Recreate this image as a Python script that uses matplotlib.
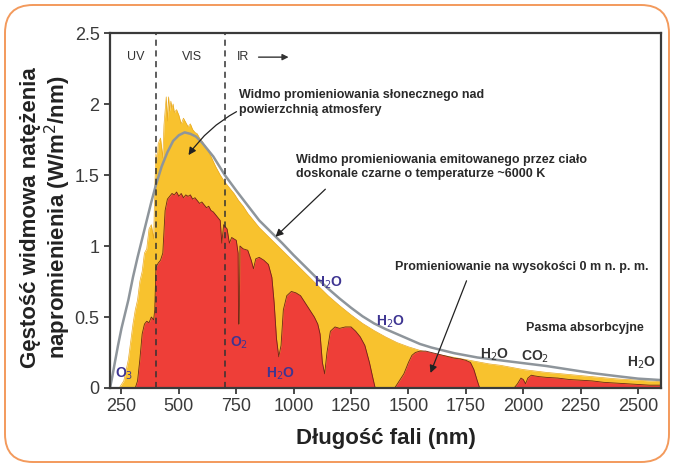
import matplotlib
matplotlib.use("Agg")
import matplotlib.pyplot as plt
from matplotlib import font_manager
from matplotlib.font_manager import FontProperties
from matplotlib.patches import FancyBboxPatch


def pick(names):
    for n in names:
        try:
            font_manager.findfont(FontProperties(family=n), fallback_to_default=False)
            return n
        except Exception:
            pass
    return "DejaVu Sans"


MAIN = pick(["Liberation Sans", "Arial"])

# ---------------- data ----------------
# Blackbody (gray curve)
bb_wl = [200, 210, 220, 235, 250, 265, 280, 300, 320, 340, 360, 380, 400, 425, 450, 475,
         500, 525, 550, 575, 600, 650, 700, 750, 800, 850, 900, 950, 1000, 1050, 1100,
         1150, 1200, 1250, 1300, 1350, 1400, 1450, 1500, 1550, 1600, 1700, 1800, 1900,
         2000, 2100, 2200, 2300, 2400, 2500, 2600]
bb_val = [0.0, 0.08, 0.17, 0.30, 0.42, 0.52, 0.62, 0.78, 0.92, 1.05, 1.18, 1.31, 1.43, 1.56,
          1.66, 1.74, 1.78, 1.80, 1.79, 1.77, 1.73, 1.63, 1.50, 1.39, 1.285, 1.18, 1.10,
          1.02, 0.935, 0.855, 0.775, 0.70, 0.63, 0.565, 0.505, 0.455, 0.415, 0.38, 0.345,
          0.31, 0.285, 0.245, 0.215, 0.195, 0.175, 0.155, 0.13, 0.105, 0.085, 0.066, 0.056]

# Top-of-atmosphere spectrum (yellow)
toa_wl = [240, 260, 280, 300, 310, 320, 330, 340, 350, 360, 370, 380, 390, 395, 400, 405,
          410, 420, 430, 435, 440, 445, 450, 455, 460, 465, 470, 475, 480, 490, 500, 510,
          520, 530, 540, 550, 560, 570, 580, 590, 600, 620, 640, 660, 680, 700, 720, 740,
          760, 780, 800, 850, 900, 950, 1000, 1050, 1100, 1150, 1200, 1250, 1300, 1350,
          1400, 1450, 1500, 1550, 1600, 1650, 1700, 1750, 1800, 1850, 1900, 1950, 2000,
          2100, 2200, 2300, 2400, 2500, 2600]
toa_val = [0.0, 0.05, 0.2, 0.45, 0.55, 0.62, 0.75, 0.82, 0.95, 0.98, 1.12, 1.15, 1.05, 1.40,
           1.65, 1.60, 1.72, 1.76, 1.62, 1.85, 1.95, 2.05, 1.88, 2.05, 1.95, 2.02, 1.97,
           2.00, 1.94, 1.96, 1.92, 1.86, 1.90, 1.87, 1.84, 1.86, 1.82, 1.80, 1.79, 1.76,
           1.74, 1.69, 1.63, 1.56, 1.50, 1.45, 1.41, 1.37, 1.32, 1.28, 1.23, 1.13, 1.05,
           0.97, 0.89, 0.81, 0.73, 0.65, 0.58, 0.515, 0.455, 0.405, 0.36, 0.32, 0.29,
           0.265, 0.245, 0.23, 0.215, 0.20, 0.185, 0.17, 0.16, 0.145, 0.13, 0.11, 0.095,
           0.08, 0.065, 0.055, 0.045]

# Sea-level spectrum (red)
sl_wl = [300, 310, 320, 330, 340, 350, 360, 370, 380, 390, 395, 400, 410, 420, 430, 440,
         450, 460, 470, 480, 490, 500, 510, 520, 530, 540, 550, 560, 570, 580, 590, 600,
         610, 620, 630, 640, 650, 660, 670, 680, 687, 695, 710, 720, 730, 750, 758, 760,
         763, 766, 780, 800, 815, 825, 835, 850, 870, 890, 905, 915, 925, 935, 945, 955,
         970, 990, 1010, 1030, 1050, 1070, 1090, 1105, 1115, 1125, 1135, 1145, 1160, 1180,
         1200, 1225, 1250, 1270, 1290, 1310, 1330, 1345, 1355, 1440, 1460, 1480, 1500,
         1515, 1530, 1550, 1575, 1600, 1625, 1650, 1675, 1700, 1725, 1750, 1770, 1785,
         1800, 1810, 1960, 1975, 1990, 2000, 2010, 2020, 2035, 2050, 2070, 2100, 2150,
         2200, 2250, 2300, 2350, 2400, 2450, 2500, 2550, 2600]
sl_val = [0.0, 0.0, 0.05, 0.2, 0.38, 0.45, 0.47, 0.46, 0.50, 0.48, 0.55, 0.85, 0.88, 0.90,
          0.95, 1.25, 1.33, 1.35, 1.37, 1.36, 1.38, 1.35, 1.37, 1.34, 1.36, 1.35, 1.36,
          1.33, 1.34, 1.32, 1.30, 1.31, 1.29, 1.27, 1.28, 1.25, 1.24, 1.22, 1.20, 1.18,
          1.02, 1.15, 1.12, 1.02, 1.06, 1.04, 0.95, 0.45, 0.45, 1.00, 0.98, 0.97, 0.90,
          0.84, 0.91, 0.92, 0.90, 0.87, 0.78, 0.60, 0.35, 0.22, 0.30, 0.55, 0.65, 0.68,
          0.67, 0.65, 0.60, 0.55, 0.50, 0.45, 0.38, 0.18, 0.10, 0.25, 0.40, 0.43, 0.42,
          0.43, 0.43, 0.40, 0.36, 0.30, 0.18, 0.07, 0.0, 0.0, 0.05, 0.10, 0.18, 0.23,
          0.25, 0.26, 0.26, 0.25, 0.24, 0.23, 0.22, 0.21, 0.205, 0.195, 0.18, 0.13, 0.05,
          0.0, 0.0, 0.03, 0.07, 0.06, 0.03, 0.07, 0.09, 0.085, 0.08, 0.075, 0.07, 0.06,
          0.055, 0.05, 0.04, 0.035, 0.03, 0.025, 0.02, 0.02]

x_ticks = [250, 500, 750, 1000, 1250, 1500, 1750, 2000, 2250, 2500]
y_ticks = [0, 0.5, 1, 1.5, 2, 2.5]
y_tick_labels = ["0", "0.5", "1", "1.5", "2", "2.5"]

region_bounds = [400, 700]

# absorption labels: (text, wavelength, value, colour-key)
mol_labels = [("O$_3$", 262, 0.10, "p"), ("O$_2$", 764, 0.32, "p"),
              ("H$_2$O", 943, 0.10, "p"), ("H$_2$O", 1151, 0.74, "p"),
              ("H$_2$O", 1422, 0.465, "p"), ("H$_2$O", 1874, 0.233, "k"),
              ("CO$_2$", 2053, 0.22, "k"), ("H$_2$O", 2516, 0.176, "k")]

# ---------------- figure ----------------
W, H = 673, 465
fig = plt.figure(figsize=(W / 100, H / 100), dpi=100)
fig.patch.set_facecolor("white")

border = FancyBboxPatch((5 / 100, 3 / 100), 664 / 100, 457 / 100,
                        boxstyle="round,pad=0,rounding_size=0.28",
                        transform=fig.dpi_scale_trans, facecolor="none",
                        edgecolor="#F39A5C", lw=1.4, zorder=10)
fig.patches.append(border)

ax = fig.add_axes([110 / W, 1 - 388 / H, (661 - 110) / W, (388 - 33) / H])
ax.set_facecolor("white")

YELLOW = "#F8C22E"
RED = "#EE3E38"
GRAY = "#8E959B"
PURPLE = "#3E3592"

ax.fill_between(toa_wl, toa_val, 0, color=YELLOW, lw=0, zorder=1)
ax.plot(toa_wl, toa_val, color="#E9A91F", lw=0.5, zorder=1.5)
ax.fill_between(sl_wl, sl_val, 0, color=RED, lw=0, zorder=2)
ax.plot(sl_wl, sl_val, color="#6E2418", lw=0.6, zorder=2.5)
ax.plot(bb_wl, bb_val, color=GRAY, lw=1.8, zorder=3)

for xb in region_bounds:
    ax.axvline(xb, color="#333333", lw=1.1, ls=(0, (4, 3)), zorder=4)

ax.set_xlim(200, 2600)
ax.set_ylim(0, 2.5)
ax.set_xticks(x_ticks)
ax.set_yticks(y_ticks)
ax.set_yticklabels(y_tick_labels)

for sp in ax.spines.values():
    sp.set_color("#3a3a3a")
    sp.set_linewidth(1.6)
    sp.set_zorder(6)

ax.tick_params(axis="both", which="both", direction="out", length=4, width=1.3,
               color="#3a3a3a", labelcolor="#3a3a3a", labelsize=13, pad=3.5)
ax.tick_params(top=False, right=False)
for lab in ax.get_xticklabels() + ax.get_yticklabels():
    lab.set_family(MAIN)

ax.set_xlabel("Długość fali (nm)", fontsize=16, fontweight="bold", family=MAIN,
              color="#222222", labelpad=9)
ax.set_ylabel("Gęstość widmowa natężenia\nnapromienienia (W/m$^2$/nm)", fontsize=16,
              fontweight="bold", family=MAIN, color="#222222", linespacing=1.05)
ax.yaxis.set_label_coords(-0.068, 0.48)

# region labels
tk = dict(fontsize=9, family=MAIN, color="#333333", ha="center", va="center", zorder=7)
ax.text(311, 2.33, "UV", **tk)
ax.text(555, 2.33, "VIS", **tk)
ax.text(780, 2.33, "IR", **tk)
ax.annotate("", xy=(990, 2.33), xytext=(835, 2.33),
            arrowprops=dict(arrowstyle="-|>", color="#333333", lw=1.0, mutation_scale=9))

ann = dict(fontsize=9, family=MAIN, fontweight="bold", color="#2a2a2a", ha="left",
           va="center", linespacing=1.25, zorder=7)
arr = dict(arrowstyle="-|>", color="#222222", lw=0.9, mutation_scale=11, shrinkA=0, shrinkB=0)

ax.text(760, 2.01, "Widmo promieniowania słonecznego nad\npowierzchnią atmosfery", **ann)
ax.annotate("", xy=(542, 1.64), xytext=(751, 1.946),
            arrowprops=dict(arr, connectionstyle="arc3,rad=0.12"))

ax.text(1008, 1.555, "Widmo promieniowania emitowanego przez ciało\n"
        "doskonale czarne o temperaturze ~6000 K", **ann)
ax.annotate("", xy=(921, 1.065), xytext=(1138, 1.40), arrowprops=arr)

ax.text(1443, 0.853, "Promieniowanie na wysokości 0 m n. p. m.", **ann)
ax.annotate("", xy=(1596, 0.106), xytext=(1753, 0.755), arrowprops=arr)

ax.text(2010, 0.423, "Pasma absorbcyjne", **ann)

for txt, xw, yv, ck in mol_labels:
    ax.text(xw, yv, txt, fontsize=10, family=MAIN, fontweight="bold",
            color=PURPLE if ck == "p" else "#333333", ha="center", va="center", zorder=7)

fig.savefig("out.png", dpi=100, facecolor="white")
